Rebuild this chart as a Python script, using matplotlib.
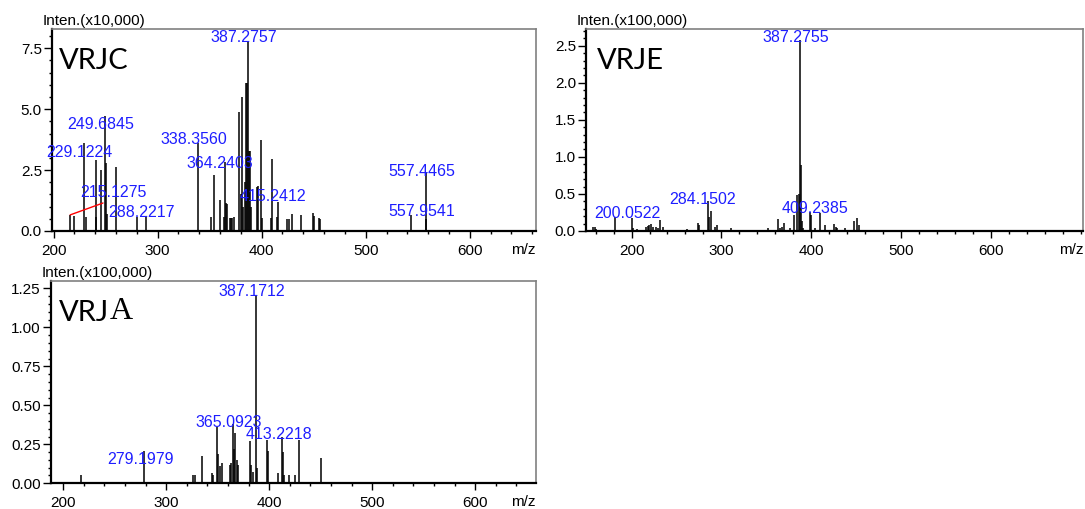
import matplotlib
matplotlib.use('Agg')
import matplotlib.pyplot as plt
from matplotlib.ticker import MultipleLocator, FixedLocator, FormatStrFormatter

plt.rcParams['font.family'] = ['Liberation Sans', 'DejaVu Sans']

label_blue = '#1e1eff'
spine_gray = '#808080'

# ---------------- VRJC (x10,000) ----------------
c_mz = [216.0, 219.9, 229.6, 230.8, 240.4, 241.2, 245.5, 249.7, 250.4, 251.0, 260.3,
        279.9, 288.8, 338.4, 351.3, 353.8, 359.6, 363.5, 364.8, 366.0, 367.0, 369.5,
        370.5, 371.5, 373.0, 378.5, 380.0, 381.3, 382.3, 384.0, 384.9, 386.0, 387.3,
        388.3, 389.0, 390.0, 395.5, 396.6, 399.4, 400.8, 408.5, 409.6, 414.6, 415.8,
        424.8, 426.5, 429.4, 437.5, 449.6, 450.2, 455.0, 455.8, 543.2, 557.6, 558.1]
c_int = [0.66, 0.62, 3.63, 0.56, 2.91, 0.56, 2.50, 4.72, 2.80, 0.70, 2.61,
         0.59, 0.59, 3.60, 0.59, 2.30, 1.27, 0.59, 2.85, 1.15, 1.10, 0.55,
         0.55, 0.55, 0.59, 4.90, 1.50, 5.50, 1.00, 2.00, 6.06, 6.06, 7.75,
         3.30, 3.30, 1.00, 1.80, 1.85, 3.74, 0.55, 0.52, 2.97, 0.59, 1.20,
         0.50, 0.50, 0.69, 0.66, 0.75, 0.60, 0.55, 0.50, 0.66, 2.43, 0.50]
c_labels = ['387.2757', '249.6845', '229.1224', '338.3560', '364.2403',
            '288.2217', '415.2412', '557.4465', '557.9541']
c_label_y = [7.94, 4.39, 3.21, 3.74, 2.78, 0.75, 1.41, 2.46, 0.79]

# ---------------- VRJE (x100,000) ----------------
e_mz = [157.4, 158.9, 160.4, 175.9, 181.8, 200.1, 201.9, 206.3, 215.7, 217.9, 219.7,
        221.6, 223.5, 227.2, 229.1, 231.6, 235.3, 245.8, 250.9, 261.4, 274.3, 275.4,
        284.7, 285.9, 288.7, 292.9, 294.8, 310.4, 324.4, 341.1, 351.5, 363.4, 365.3,
        367.5, 369.7, 376.4, 381.2, 384.5, 386.1, 387.5, 388.3, 389.4, 391.2, 398.7,
        400.1, 404.2, 409.8, 415.7, 425.4, 427.6, 429.1, 437.6, 447.7, 450.7, 452.9]
e_int = [0.05, 0.05, 0.03, 0.02, 0.19, 0.17, 0.04, 0.03, 0.06, 0.07, 0.08,
         0.10, 0.06, 0.05, 0.04, 0.15, 0.05, 0.02, 0.02, 0.03, 0.11, 0.08,
         0.40, 0.19, 0.27, 0.05, 0.08, 0.04, 0.02, 0.02, 0.04, 0.16, 0.04,
         0.05, 0.11, 0.04, 0.22, 0.49, 0.50, 2.58, 0.89, 0.13, 0.04, 0.26,
         0.22, 0.04, 0.24, 0.08, 0.09, 0.05, 0.04, 0.04, 0.13, 0.18, 0.08]
e_labels = ['387.2755', '200.0522', '284.1502', '409.2385']
e_label_y = [2.61, 0.23, 0.43, 0.30]

# ---------------- VRJA (x100,000) ----------------
a_mz = [217.0, 278.8, 326.3, 328.3, 335.0, 344.8, 345.7, 349.0, 350.3, 352.2, 353.9,
        361.9, 363.2, 364.6, 365.8, 367.1, 368.4, 370.0, 381.4, 382.6, 384.6, 386.9,
        388.2, 397.6, 398.6, 408.8, 412.4, 413.4, 414.6, 418.9, 425.0, 428.9, 450.0]
a_int = [0.053, 0.21, 0.053, 0.053, 0.175, 0.064, 0.05, 0.363, 0.19, 0.11, 0.13,
         0.12, 0.13, 0.38, 0.22, 0.32, 0.15, 0.12, 0.27, 0.12, 0.07, 1.21,
         0.10, 0.277, 0.21, 0.068, 0.30, 0.20, 0.05, 0.05, 0.05, 0.28, 0.16]
a_labels = ['387.1712', '365.0923', '413.2218', '279.1979']
a_label_y = [1.23, 0.39, 0.31, 0.154]


def setup(ax, xlim, ylim, ystep, yminor, yfmt, scale_txt):
    ax.set_xlim(xlim)
    ax.set_ylim(ylim)
    ax.xaxis.set_major_locator(FixedLocator([200, 300, 400, 500, 600]))
    ax.xaxis.set_minor_locator(MultipleLocator(20))
    ax.yaxis.set_major_locator(MultipleLocator(ystep))
    ax.yaxis.set_minor_locator(MultipleLocator(yminor))
    ax.yaxis.set_major_formatter(FormatStrFormatter(yfmt))
    ax.tick_params(axis='x', which='major', direction='out', length=5, width=1, pad=4.5, labelsize=11)
    ax.tick_params(axis='x', which='minor', direction='out', length=2.5, width=1)
    ax.tick_params(axis='y', which='major', direction='out', length=6, width=1, pad=1, labelsize=11)
    ax.tick_params(axis='y', which='minor', direction='out', length=2.5, width=1)
    for s in ['left', 'bottom']:
        ax.spines[s].set_linewidth(1.6)
        ax.spines[s].set_color('black')
    for s in ['top', 'right']:
        ax.spines[s].set_linewidth(1.2)
        ax.spines[s].set_color(spine_gray)
    ax.text(-0.019, 1.02, scale_txt, transform=ax.transAxes, fontsize=11,
            ha='left', va='baseline')
    ax.annotate('m/z', xy=(1.0, 0), xycoords='axes fraction', xytext=(0, -8.5),
                textcoords='offset points', ha='right', va='top', fontsize=11)


def add_labels(ax, labels, ys):
    for txt, y in zip(labels, ys):
        ax.annotate(txt, xy=(float(txt), y), xytext=(-3, 0), textcoords='offset points',
                    ha='center', va='center', color=label_blue, fontsize=11.5)


fig = plt.figure(figsize=(10.85, 5.09), dpi=100)

# VRJC
ax_c = fig.add_axes([0.0476, 0.5462, 0.4461, 0.3969])
ax_c.vlines(c_mz, 0, c_int, color='black', linewidth=1.1)
setup(ax_c, (198.2, 663.3), (0, 8.29), 2.5, 0.5, '%.1f', 'Inten.(x10,000)')
add_labels(ax_c, c_labels, c_label_y)
ax_c.annotate('215.1275', xy=(216.0, 0.66), xytext=(257.7, 1.57), textcoords='data',
              ha='center', va='center', color=label_blue, fontsize=11.5,
              arrowprops=dict(arrowstyle='-', color='red', lw=1.0, shrinkA=0, shrinkB=0,
                              relpos=(0.55, 0.15)))
ax_c.text(0.0157, 0.802, 'VRJC', transform=ax_c.transAxes, fontsize=21,
          family=['Lato', 'DejaVu Sans'], ha='left', va='baseline')

# VRJE
ax_e = fig.add_axes([0.5398, 0.5462, 0.4586, 0.3969])
ax_e.vlines(e_mz, 0, e_int, color='black', linewidth=1.1)
setup(ax_e, (148.9, 703.0), (0, 2.726), 0.5, 0.1, '%.1f', 'Inten.(x100,000)')
add_labels(ax_e, e_labels, e_label_y)
ax_e.text(0.0233, 0.802, 'VRJE', transform=ax_e.transAxes, fontsize=21,
          family=['Lato', 'DejaVu Sans'], ha='left', va='baseline')

# VRJA
ax_a = fig.add_axes([0.0467, 0.0505, 0.4470, 0.3974])
ax_a.vlines(a_mz, 0, a_int, color='black', linewidth=1.1)
setup(ax_a, (187.9, 658.7), (0, 1.297), 0.25, 0.05, '%.2f', 'Inten.(x100,000)')
add_labels(ax_a, a_labels, a_label_y)
vrj = ax_a.text(0.0177, 0.804, 'VRJ', transform=ax_a.transAxes, fontsize=21,
                family=['Lato', 'DejaVu Sans'], ha='left', va='baseline')
ax_a.annotate('A', xy=(1, 0), xycoords=vrj, ha='left', va='bottom', fontsize=23,
              family=['Liberation Serif', 'DejaVu Serif'])

fig.savefig('out.png', dpi=100)
